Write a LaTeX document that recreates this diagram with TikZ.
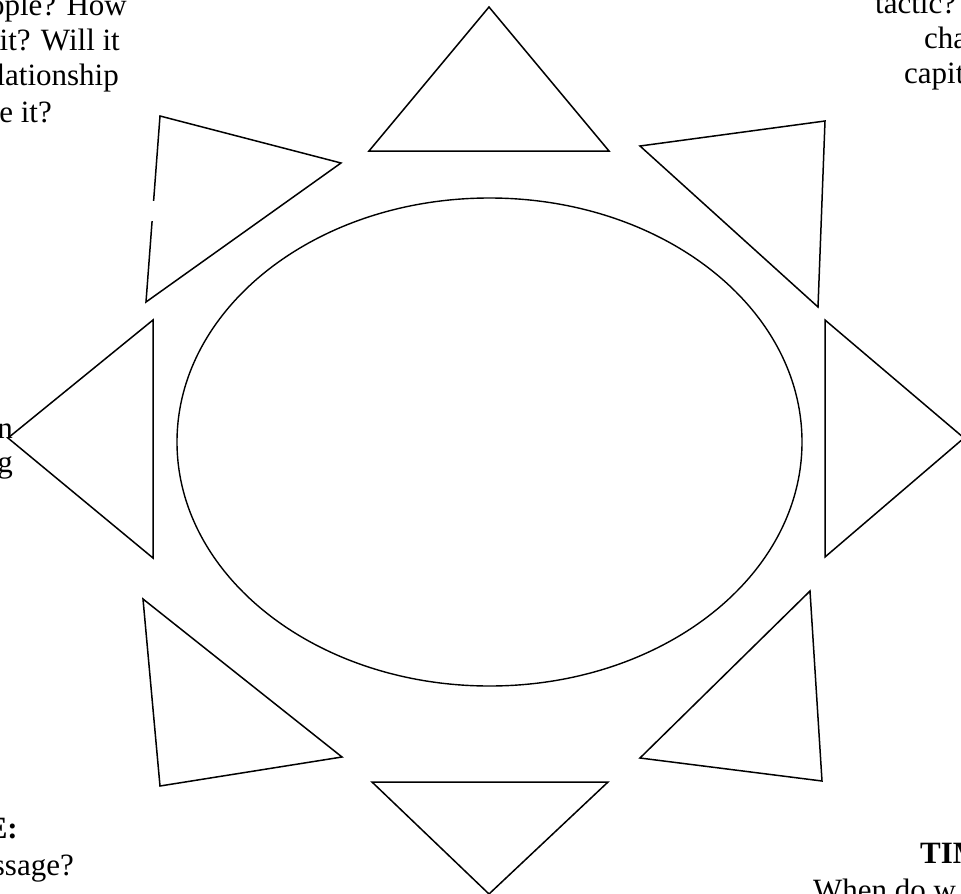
\documentclass[tikz,border=0pt]{standalone}
\usepackage{fontspec}
\setmainfont{Liberation Serif}
\usetikzlibrary{shapes.geometric}
\tikzset{
  tri/.style={draw=black, line width=1.5pt, line join=miter},
  core/.style={draw=black, line width=1.4pt, ellipse, inner sep=0pt},
  txt/.style={inner sep=0pt, font=\fontsize{31}{35.5}\selectfont},
  btxt/.style={inner sep=0pt, font=\fontsize{31}{35.5}\selectfont\bfseries}
}
\begin{document}
\begin{tikzpicture}[x=1pt, y=-1pt]
\useasboundingbox (0,0) rectangle (961,894);
\clip (0,0) rectangle (961,894);
\fill[white] (0,0) rectangle (961,894);

% central ellipse
\node[core, minimum width=625pt, minimum height=488pt] (centre) at (489.5,442) {};

% rays
\draw[tri] (489,7) -- (369,151) -- (609,151) -- cycle;       % top
\draw[tri] (640,146) -- (825,121) -- (818,307) -- cycle;     % top right
\draw[tri] (825,320) -- (825,557) -- (964,438) -- cycle;     % right
\draw[tri] (810,591) -- (822,781) -- (640,758) -- cycle;     % bottom right
\draw[tri] (372,782) -- (608,782) -- (489,894) -- cycle;     % bottom
\draw[tri] (143,599) -- (342,757) -- (160,786) -- cycle;     % bottom left
\draw[tri] (153,320) -- (153,558) -- (8,438) -- cycle;       % left
\draw[tri] (160,116) -- (341,163) -- (146,302) -- cycle;     % top left
% small break in the top-left ray's left side
\fill[white] (148,201) rectangle (158,221);

% clipped text fragments, top left
\node[txt, anchor=base east] (tl1) at (127,15) {ople? How};
\node[txt, anchor=base east] (tl2) at (120,50) {it? Will it};
\node[txt, anchor=base east] (tl3) at (119,85) {lationship};
\node[txt, anchor=base east] (tl4) at (52,122) {e it?};

% top right
\node[txt, anchor=base west] (tr1) at (875,13) {tactic?};
\node[txt, anchor=base west] (tr2) at (924,48) {cha};
\node[txt, anchor=base west] (tr3) at (904,83) {capit};

% left
\node[txt, anchor=base east] (l1) at (13,438) {n};
\node[txt, anchor=base east] (l2) at (13,472) {g};

% bottom left
\node[btxt, anchor=base east] (bl1) at (18,838) {E:};
\node[txt, anchor=base east] (bl2) at (74,875) {ssage?};

% bottom right
\node[btxt, anchor=base west] (br1) at (920,863) {TIM};
\node[txt, anchor=base west] (br2) at (813,900) {When do w};
\end{tikzpicture}
\end{document}
